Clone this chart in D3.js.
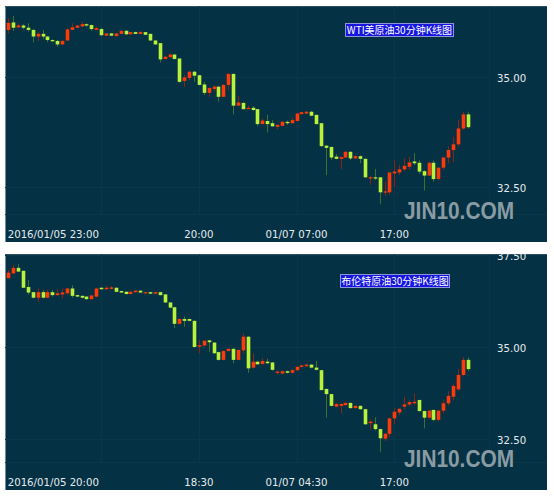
<!DOCTYPE html>
<html><head><meta charset="utf-8">
<script src="https://cdn.jsdelivr.net/npm/d3@7"></script>
<style>body{margin:0;background:#fff;}svg{display:block}</style>
</head><body>
<script>
// ---------- DATA ----------
const wtiOpen  = [36.07,36.24,36.13,36.17,36.12,36.07,35.92,35.98,35.92,35.84,35.82,35.74,35.83,36.07,36.12,36.15,36.20,36.18,36.07,36.09,35.94,35.99,35.93,35.98,36.05,35.97,36.02,35.98,36.02,35.98,35.83,35.77,35.41,35.45,35.51,35.42,34.91,34.98,35.12,35.04,34.83,34.64,34.73,34.78,34.55,34.82,35.07,34.35,34.41,34.27,34.30,34.27,33.93,34.00,33.95,33.87,33.89,33.98,33.95,34.00,34.16,34.17,34.21,34.14,33.95,33.44,33.41,33.19,33.14,33.17,33.30,33.15,33.20,33.14,32.70,32.72,32.72,32.39,32.38,32.81,32.83,32.90,32.96,33.08,33.05,32.86,32.76,33.05,32.68,32.94,33.17,33.34,33.47,33.83,34.15];
const wtiHigh  = [36.33,36.39,36.22,36.20,36.22,36.09,36.02,36.07,35.93,35.86,35.84,35.84,36.11,36.22,36.18,36.26,36.22,36.19,36.14,36.11,36.00,36.00,36.00,36.05,36.06,36.02,36.03,36.05,36.02,35.99,35.83,35.77,35.49,35.53,35.52,35.43,35.05,35.14,35.14,35.05,34.89,34.77,34.82,34.80,34.84,35.08,35.08,34.57,34.43,34.35,34.34,34.27,34.06,34.14,34.02,33.92,34.00,34.01,34.07,34.18,34.21,34.23,34.23,34.14,33.95,33.44,33.42,33.25,33.19,33.32,33.31,33.22,33.22,33.15,32.75,32.91,32.73,32.62,32.83,33.11,33.00,33.15,33.19,33.27,33.11,32.88,33.07,33.10,32.95,33.18,33.42,33.64,34.02,34.21,34.21];
const wtiLow   = [35.99,36.05,36.11,36.08,36.03,35.79,35.82,35.86,35.79,35.79,35.69,35.73,35.82,36.07,36.11,36.14,36.14,36.05,36.07,35.93,35.93,35.93,35.92,35.98,35.96,35.96,35.98,35.98,35.95,35.82,35.73,35.33,35.40,35.44,35.39,34.87,34.77,34.93,34.89,34.81,34.59,34.55,34.67,34.44,34.55,34.70,34.15,34.34,34.26,34.27,34.23,33.89,33.93,33.74,33.87,33.81,33.88,33.91,33.94,33.99,34.14,34.16,34.11,33.92,33.41,32.77,33.11,33.13,32.91,33.16,33.11,33.13,33.04,32.71,32.55,32.66,32.11,32.30,32.32,32.51,32.77,32.87,32.89,33.00,32.80,32.42,32.75,32.62,32.67,32.89,33.04,33.07,33.42,33.80,33.83];
const wtiClose = [36.23,36.12,36.17,36.12,36.07,35.92,35.98,35.92,35.84,35.82,35.74,35.82,36.08,36.13,36.17,36.20,36.17,36.09,36.11,35.95,35.99,35.94,35.99,36.05,35.97,36.02,35.98,36.02,35.96,35.83,35.74,35.40,35.46,35.51,35.41,34.89,34.99,35.12,35.03,34.82,34.64,34.75,34.78,34.55,34.82,35.07,34.35,34.42,34.27,34.30,34.25,33.93,34.01,33.93,33.88,33.91,33.98,33.95,34.02,34.17,34.20,34.21,34.12,33.93,33.43,33.39,33.17,33.14,33.18,33.30,33.15,33.20,33.14,32.72,32.72,32.70,32.38,32.40,32.83,32.85,32.90,32.98,33.06,33.04,32.85,32.76,33.05,32.68,32.94,33.17,33.34,33.47,33.83,34.15,33.86];

const brentOpen  = [36.87,37.00,37.15,37.07,36.63,36.49,36.34,36.49,36.34,36.49,36.41,36.43,36.46,36.59,36.41,36.39,36.37,36.30,36.37,36.61,36.57,36.58,36.61,36.52,36.50,36.44,36.49,36.53,36.46,36.49,36.45,36.49,36.43,36.21,36.08,35.63,35.76,35.76,35.71,35.01,35.04,35.18,35.12,34.86,34.65,34.89,34.95,34.65,34.91,35.28,34.44,34.60,34.54,34.60,34.58,34.30,34.28,34.34,34.30,34.37,34.46,34.48,34.52,34.44,34.37,33.86,33.72,33.38,33.40,33.42,33.48,33.34,33.40,33.31,32.93,32.90,32.77,32.51,32.64,33.06,33.22,33.38,33.44,33.47,33.56,33.26,33.08,33.29,33.02,33.27,33.47,33.65,33.85,34.24,34.65];
const brentHigh  = [37.09,37.23,37.25,37.08,36.82,36.50,36.59,36.55,36.55,36.55,36.57,36.59,36.61,36.68,36.42,36.40,36.38,36.41,36.61,36.62,36.66,36.66,36.62,36.53,36.51,36.51,36.54,36.54,36.50,36.50,36.50,36.50,36.44,36.22,36.09,35.77,35.83,35.77,35.72,35.19,35.18,35.19,35.13,34.87,34.90,34.96,34.96,34.93,35.37,35.29,34.83,34.62,34.70,34.68,34.59,34.36,34.36,34.36,34.40,34.48,34.52,34.55,34.53,34.62,34.38,33.87,33.73,33.48,33.47,33.52,33.49,33.42,33.41,33.32,33.03,33.09,32.78,32.66,33.07,33.35,33.34,33.65,33.55,33.74,33.57,33.27,33.29,33.30,33.29,33.55,33.80,34.01,34.40,34.72,34.72];
const brentLow   = [36.87,36.98,37.03,36.60,36.42,36.32,36.23,36.32,36.33,36.37,36.39,36.32,36.42,36.34,36.36,36.32,36.28,36.29,36.35,36.56,36.55,36.57,36.49,36.47,36.43,36.43,36.48,36.47,36.45,36.44,36.44,36.40,36.20,36.05,35.51,35.62,35.55,35.70,34.99,34.83,35.03,34.87,34.82,34.63,34.64,34.88,34.56,34.64,34.83,34.30,34.42,34.52,34.52,34.54,34.36,34.25,34.26,34.28,34.28,34.35,34.44,34.46,34.42,34.36,33.82,33.08,33.38,33.36,33.20,33.41,33.32,33.33,33.29,32.89,32.76,32.73,32.15,32.45,32.55,32.90,33.15,33.32,33.40,33.44,33.24,32.79,33.05,32.98,32.99,33.20,33.40,33.55,33.80,34.20,34.35];
const brentClose = [37.02,37.15,37.05,36.61,36.48,36.34,36.49,36.34,36.49,36.41,36.46,36.48,36.59,36.39,36.37,36.34,36.30,36.40,36.59,36.57,36.61,36.62,36.50,36.48,36.44,36.50,36.53,36.48,36.49,36.45,36.49,36.41,36.21,36.07,35.63,35.76,35.71,35.71,35.00,35.05,35.17,35.13,34.83,34.65,34.89,34.95,34.65,34.92,35.28,34.42,34.60,34.53,34.62,34.56,34.38,34.33,34.34,34.30,34.37,34.46,34.50,34.52,34.44,34.38,33.83,33.72,33.40,33.45,33.45,33.48,33.34,33.40,33.31,32.90,32.97,32.77,32.52,32.64,33.06,33.24,33.32,33.44,33.50,33.51,33.26,33.08,33.27,33.02,33.27,33.47,33.67,33.94,34.24,34.65,34.40];

const wtiTitle = "WTI美原油30分钟K线图";
const brentTitle = "布伦特原油30分钟K线图";
const wtiXLabels = ["2016/01/05 23:00","20:00","01/07 07:00","17:00"];
const brentXLabels = ["2016/01/05 20:00","18:30","01/07 04:30","17:00"];
const xLabelIndex = [19,39,59,79];
const wtiYTicks = [35.00, 32.50];
const brentYTicks = [37.50, 35.00, 32.50];

// ---------- DRAW ----------
const W = 554, H = 497;
const svg = d3.select("body").append("svg").attr("width", W).attr("height", H);
const x = d3.scaleLinear().domain([0, 94]).range([8.3, 467.6]);
const UP = "#ff3a0a", DOWN = "#b8f23c", UPW = "#8c2414", DOWNW = "#3f7030";

function panel(cfg) {
  const g = svg.append("g");
  const clipId = "clip" + cfg.id;
  g.append("clipPath").attr("id", clipId).append("rect")
    .attr("x", cfg.left).attr("y", cfg.top).attr("width", cfg.right - cfg.left).attr("height", cfg.bottom - cfg.top);
  g.append("rect").attr("x", cfg.left).attr("y", cfg.top)
    .attr("width", cfg.right - cfg.left).attr("height", cfg.bottom - cfg.top)
    .attr("fill", "#043244");
  g.append("line").attr("x1", cfg.left + 0.5).attr("x2", cfg.left + 0.5).attr("y1", cfg.top).attr("y2", cfg.bottom)
    .attr("stroke", "#6f8c99").attr("stroke-width", 1);
  g.append("line").attr("x1", cfg.left).attr("x2", cfg.right).attr("y1", cfg.top + 0.5).attr("y2", cfg.top + 0.5)
    .attr("stroke", "#2c5262").attr("stroke-width", 1);

  const y = d3.scaleLinear().domain(cfg.domain).range([cfg.plotBottom, cfg.top]);
  const cg = g.append("g").attr("clip-path", `url(#${clipId})`);

  const grid = "#0a3849";
  cg.selectAll(".hg").data(cfg.yTicks).join("line")
    .attr("x1", cfg.left).attr("x2", cfg.plotRight)
    .attr("y1", d => Math.round(y(d)) + 0.5).attr("y2", d => Math.round(y(d)) + 0.5)
    .attr("stroke", grid);
  cg.append("line").attr("x1", cfg.left).attr("x2", cfg.right)
    .attr("y1", cfg.plotBottom + 0.5).attr("y2", cfg.plotBottom + 0.5).attr("stroke", grid);
  cg.selectAll(".vg").data(xLabelIndex).join("line")
    .attr("x1", d => Math.round(x(d)) + 0.5).attr("x2", d => Math.round(x(d)) + 0.5)
    .attr("y1", cfg.top).attr("y2", cfg.plotBottom).attr("stroke", grid);
  cg.append("line").attr("x1", cfg.plotRight + 0.5).attr("x2", cfg.plotRight + 0.5)
    .attr("y1", cfg.top).attr("y2", cfg.plotBottom).attr("stroke", grid);

  // watermark
  cg.append("text").attr("x", 404).attr("y", cfg.wmY)
    .attr("textLength", 110).attr("lengthAdjust", "spacingAndGlyphs")
    .attr("font-family", "Liberation Sans, Arial, sans-serif").attr("font-size", 23).attr("font-weight", "bold")
    .attr("fill", "#8a9ba3").text("JIN10.COM");

  // candles
  const data = cfg.open.map((o, i) => ({i, o, h: cfg.high[i], l: cfg.low[i], c: cfg.close[i]}));
  const bw = 3.6;
  cg.selectAll(".wick").data(data).join("line")
    .attr("x1", d => Math.round(x(d.i)) + 0.5).attr("x2", d => Math.round(x(d.i)) + 0.5)
    .attr("y1", d => y(d.h)).attr("y2", d => y(d.l))
    .attr("stroke", d => d.c >= d.o ? UPW : DOWNW).attr("stroke-width", 1);
  cg.selectAll(".body").data(data).join("rect")
    .attr("x", d => Math.round(x(d.i)) + 0.5 - bw / 2)
    .attr("y", d => y(Math.max(d.o, d.c)))
    .attr("width", bw)
    .attr("height", d => Math.max(1.2, Math.abs(y(d.o) - y(d.c))))
    .attr("fill", d => d.c >= d.o ? UP : DOWN);

  // y labels
  cg.selectAll(".yl").data(cfg.yTicks).join("text")
    .attr("x", 497).attr("y", d => y(d) + 4.5)
    .attr("font-family", "DejaVu Sans, sans-serif").attr("font-size", 10.2)
    .attr("fill", "#e4eaee").text(d => d.toFixed(2));

  // x labels
  cg.selectAll(".xl").data(cfg.xLabels).join("text")
    .attr("x", (d, k) => k === 0 ? Math.round(x(xLabelIndex[0])) - 2 : x(xLabelIndex[k]))
    .attr("y", cfg.labelY)
    .attr("text-anchor", (d, k) => k === 0 ? "end" : "middle")
    .attr("font-family", "DejaVu Sans, sans-serif").attr("font-size", 10.2)
    .attr("fill", "#e4eaee").text(d => d);

  // title box
  const tg = g.append("g");
  tg.append("rect").attr("x", cfg.tbx + 0.5).attr("y", cfg.tby + 0.5).attr("width", cfg.tbw).attr("height", 13)
    .attr("fill", "#1616e0").attr("stroke", "#8b95d8").attr("stroke-width", 1);
  tg.append("text").attr("x", cfg.tbx + cfg.tbw / 2 + 0.5).attr("y", cfg.tby + 11)
    .attr("text-anchor", "middle").attr("font-family", "Noto Sans CJK SC, sans-serif")
    .attr("font-size", 10).attr("fill", "#ffffff").text(cfg.title);
}

panel({id: "a", left: 5, right: 547, top: 6, bottom: 242, plotBottom: 214, plotRight: 489,
  domain: [35 - 137 / 44, 35 + 71 / 44], open: wtiOpen, high: wtiHigh, low: wtiLow, close: wtiClose,
  yTicks: wtiYTicks, xLabels: wtiXLabels, labelY: 237.5, wmY: 219, title: wtiTitle, tbx: 345, tby: 23, tbw: 108});
panel({id: "b", left: 5, right: 547, top: 254, bottom: 490, plotBottom: 462, plotRight: 489,
  domain: [35 - 115 / 36.8, 35 + 93 / 36.8], open: brentOpen, high: brentHigh, low: brentLow, close: brentClose,
  yTicks: brentYTicks, xLabels: brentXLabels, labelY: 486, wmY: 467, title: brentTitle, tbx: 340, tby: 274, tbw: 109});
</script>
</body></html>
